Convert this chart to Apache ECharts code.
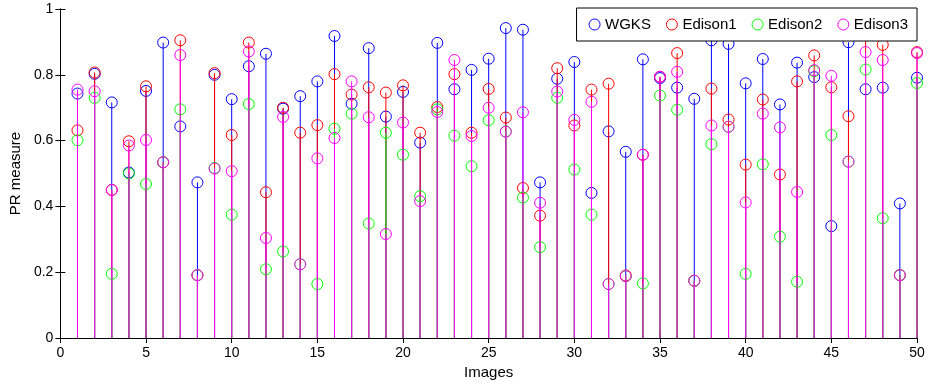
<!DOCTYPE html>
<html>
<head>
<meta charset="utf-8">
<script src="https://cdn.jsdelivr.net/npm/echarts@6/dist/echarts.min.js"></script>
<style>
  html, body { margin: 0; padding: 0; background: #fff; }
  #chart { width: 932px; height: 385px; }
</style>
</head>
<body>
<div id="chart"></div>
<script>
var images = [1, 2, 3, 4, 5, 6, 7, 8, 9, 10, 11, 12, 13, 14, 15, 16, 17, 18, 19, 20,
  21, 22, 23, 24, 25, 26, 27, 28, 29, 30, 31, 32, 33, 34, 35, 36, 37, 38, 39, 40,
  41, 42, 43, 44, 45, 46, 47, 48, 49, 50];

var wgks = [0.743, 0.803, 0.716, 0.503, 0.751, 0.898, 0.643, 0.473, 0.800, 0.726,
  0.826, 0.864, 0.697, 0.735, 0.780, 0.918, 0.712, 0.881, 0.673, 0.748,
  0.594, 0.897, 0.756, 0.815, 0.849, 0.942, 0.937, 0.473, 0.788, 0.839,
  0.441, 0.628, 0.566, 0.847, 0.790, 0.761, 0.727, 0.905, 0.894, 0.774,
  0.848, 0.710, 0.837, 0.793, 0.340, 0.899, 0.756, 0.761, 0.409, 0.791];

var edison1 = [0.631, 0.807, 0.450, 0.598, 0.765, 0.534, 0.905, 0.191, 0.805, 0.617,
  0.898, 0.443, 0.700, 0.624, 0.647, 0.802, 0.740, 0.762, 0.746, 0.768,
  0.624, 0.702, 0.802, 0.624, 0.757, 0.670, 0.456, 0.372, 0.820, 0.646,
  0.755, 0.773, 0.190, 0.557, 0.794, 0.866, 0.174, 0.758, 0.664, 0.527,
  0.725, 0.497, 0.780, 0.859, 0.762, 0.674, 0.950, 0.891, 0.191, 0.869];

var edison2 = [0.601, 0.730, 0.195, 0.500, 0.468, 0.534, 0.695, 0.191, 0.517, 0.375,
  0.711, 0.209, 0.263, 0.224, 0.164, 0.636, 0.682, 0.348, 0.624, 0.557,
  0.431, 0.695, 0.615, 0.522, 0.662, 0.628, 0.427, 0.276, 0.730, 0.512,
  0.375, 0.164, 0.188, 0.166, 0.737, 0.694, 0.174, 0.589, 0.642, 0.195,
  0.528, 0.308, 0.171, 0.811, 0.617, 0.536, 0.816, 0.364, 0.191, 0.775];

var edison3 = [0.755, 0.750, 0.450, 0.585, 0.602, 0.534, 0.860, 0.191, 0.515, 0.507,
  0.871, 0.304, 0.672, 0.224, 0.546, 0.608, 0.780, 0.671, 0.316, 0.655,
  0.416, 0.687, 0.845, 0.614, 0.700, 0.627, 0.686, 0.411, 0.749, 0.663,
  0.718, 0.164, 0.188, 0.557, 0.794, 0.809, 0.174, 0.646, 0.642, 0.412,
  0.682, 0.640, 0.444, 0.814, 0.797, 0.536, 0.869, 0.845, 0.191, 0.866];

var names = ["WGKS", "Edison1", "Edison2", "Edison3"];
var colors = ["#0000ff", "#ff0000", "#00ff00", "#ff00ff"];
var values = [wgks, edison1, edison2, edison3];

var font = "Liberation Sans, Arial, Helvetica, sans-serif";

// stem: line from 0 up to the value, open circle on top
function renderStem(params, api) {
  var x = api.value(0);
  var y = api.value(1);
  var p0 = api.coord([x, 0]);
  var p1 = api.coord([x, y]);
  var c = api.visual("color");
  return {
    type: "group",
    children: [
      {
        type: "line",
        shape: { x1: p0[0], y1: p0[1], x2: p1[0], y2: p1[1] },
        style: { stroke: c, lineWidth: 1 }
      },
      {
        type: "circle",
        shape: { cx: p1[0], cy: p1[1], r: 5.5 },
        style: { fill: null, stroke: c, lineWidth: 1 }
      }
    ]
  };
}

var series = [];
for (var s = 0; s < names.length; s++) {
  var pts = [];
  for (var i = 0; i < images.length; i++) {
    pts.push([images[i], values[s][i]]);
  }
  series.push({
    name: names[s],
    type: "custom",
    renderItem: renderStem,
    itemStyle: { color: colors[s] },
    data: pts,
    z: 2 + s
  });
}

var tickStyle = { show: true, inside: true, length: 5, lineStyle: { color: "#000" } };

var chart = echarts.init(document.getElementById("chart"));
chart.setOption({
  backgroundColor: "#fff",
  animation: false,
  textStyle: { fontFamily: font },
  grid: { left: 57, right: 15, top: 9, bottom: 46 },
  legend: {
    data: names.map(function(n, k) {
      return {
        name: n,
        icon: "circle",
        itemStyle: { color: "#fff", borderColor: colors[k], borderWidth: 1 }
      };
    }),
    right: 15,
    top: 8,
    itemWidth: 11,
    itemHeight: 11,
    itemGap: 15,
    padding: [9, 9, 9, 12],
    backgroundColor: "#fff",
    borderColor: "#000",
    borderWidth: 1,
    borderRadius: 0,
    textStyle: { fontFamily: font, fontSize: 15, color: "#000" },
    z: 10
  },
  xAxis: [
    {
      type: "value",
      min: 0,
      max: 50,
      interval: 5,
      name: "Images",
      nameLocation: "middle",
      nameGap: 27,
      nameTextStyle: { fontFamily: font, fontSize: 15, color: "#000" },
      axisLine: { show: true, lineStyle: { color: "#000" } },
      axisTick: tickStyle,
      axisLabel: { margin: 8, fontFamily: font, fontSize: 14, color: "#000" },
      splitLine: { show: false }
    },
    {
      type: "value",
      position: "top",
      min: 0,
      max: 50,
      interval: 5,
      axisLine: { show: true, lineStyle: { color: "#000" } },
      axisTick: tickStyle,
      axisLabel: { show: false },
      splitLine: { show: false }
    }
  ],
  yAxis: [
    {
      type: "value",
      min: 0,
      max: 1,
      interval: 0.2,
      name: "PR measure",
      nameLocation: "middle",
      nameGap: 30,
      nameTextStyle: { fontFamily: font, fontSize: 15, color: "#000" },
      axisLine: { show: true, lineStyle: { color: "#000" } },
      axisTick: tickStyle,
      axisLabel: { margin: 7, fontFamily: font, fontSize: 14, color: "#000" },
      splitLine: { show: false }
    },
    {
      type: "value",
      position: "right",
      min: 0,
      max: 1,
      interval: 0.2,
      axisLine: { show: true, lineStyle: { color: "#000" } },
      axisTick: tickStyle,
      axisLabel: { show: false },
      splitLine: { show: false }
    }
  ],
  series: series
});
</script>
</body>
</html>
